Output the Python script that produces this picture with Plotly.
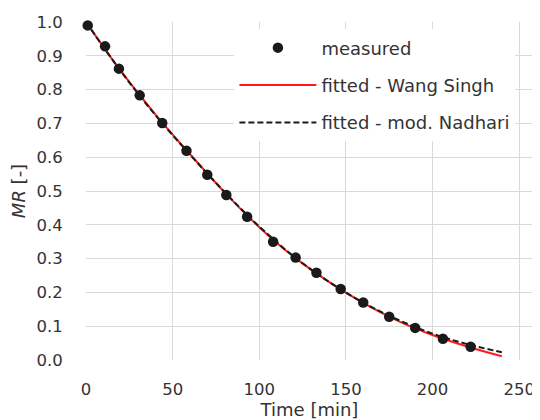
import plotly.graph_objects as go

# measured data
time_measured = [1, 11, 19, 31, 44, 58, 70, 81, 93, 108, 121, 133, 147, 160, 175, 190, 206, 222]
mr_measured = [0.990, 0.928, 0.862, 0.783, 0.701, 0.619, 0.548, 0.488, 0.424, 0.350,
               0.303, 0.258, 0.210, 0.170, 0.128, 0.095, 0.063, 0.039]

# fitted curves
time_fit = [0, 20, 40, 60, 80, 100, 120, 140, 160, 180, 200, 220, 240]
mr_wang_singh = [1.0, 0.856, 0.727, 0.609, 0.496, 0.393, 0.305, 0.232, 0.169, 0.116, 0.074, 0.040, 0.011]
mr_nadhari = [1.0, 0.855, 0.725, 0.608, 0.497, 0.395, 0.306, 0.232, 0.170, 0.119, 0.078, 0.047, 0.023]

x_ticks = [0, 50, 100, 150, 200, 250]
y_ticks = [0.0, 0.1, 0.2, 0.3, 0.4, 0.5, 0.6, 0.7, 0.8, 0.9, 1.0]

FONT = "DejaVu Sans"
TXT = "#333333"
GRID = "#d9d9d9"
NOTICK = "rgba(0,0,0,0)"

fig = go.Figure()
fig.add_trace(go.Scatter(
    x=time_fit, y=mr_wang_singh, mode="lines", name="fitted - Wang Singh",
    line=dict(color="#ff1a1a", width=2, shape="spline"), legendgroup="b", legendrank=2))
fig.add_trace(go.Scatter(
    x=time_fit, y=mr_nadhari, mode="lines", name="fitted - mod. Nadhari",
    line=dict(color="#1a1a1a", width=2, dash="6px,3px", shape="spline"),
    legendgroup="c", legendrank=3))
fig.add_trace(go.Scatter(
    x=time_measured, y=mr_measured, mode="markers", name="measured",
    marker=dict(color="#1a1a1a", size=10.5), cliponaxis=False, legendgroup="a", legendrank=1))

# the page body has an 8px margin, so margins are reduced by 8px on the left/top
fig.update_layout(
    template="none",
    width=540, height=420,
    margin=dict(l=77.5, r=15, t=13.7, b=67.5),
    paper_bgcolor="white", plot_bgcolor="white",
    font=dict(family=FONT, size=16.5, color=TXT),
    showlegend=True,
    legend=dict(x=0.332, y=0.978, xanchor="left", yanchor="top",
                bgcolor="white", font=dict(size=18, color=TXT),
                itemwidth=77, tracegroupgap=11, traceorder="grouped"),
    xaxis=dict(range=[0, 258], tickvals=x_ticks, showgrid=True, gridcolor=GRID, gridwidth=1.4,
               automargin=False,
               zeroline=False, showline=False, ticks="outside", ticklen=14.5, tickcolor=NOTICK,
               tickfont=dict(size=16.5),
               title=dict(text="Time [min]", standoff=5, font=dict(size=18))),
    yaxis=dict(range=[0, 1.0], tickvals=y_ticks, tickformat=".1f", showgrid=True,
               automargin=False,
               gridcolor=GRID, gridwidth=1.4, zeroline=False, showline=False,
               ticks="outside", ticklen=19, tickcolor=NOTICK, tickfont=dict(size=16.5),
               title=dict(text="<i>MR</i> [-]", standoff=7, font=dict(size=18))),
)

fig.write_html("out.html")
